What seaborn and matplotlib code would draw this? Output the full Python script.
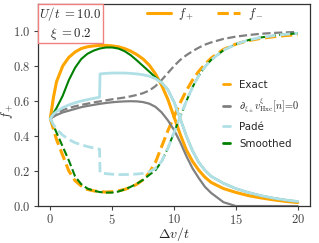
import matplotlib
matplotlib.use("Agg")
import matplotlib.pyplot as plt
import seaborn as sns
from matplotlib.lines import Line2D
from matplotlib.ticker import FuncFormatter
from matplotlib.offsetbox import AnchoredText

# ---------------- data ----------------
x_grid = [0, 0.25, 0.5, 1, 1.5, 2, 2.5, 3, 3.5, 4, 4.5, 5, 5.5, 6, 6.5, 7, 7.5, 8,
          8.5, 9, 9.5, 10, 10.5, 11, 11.5, 12, 12.5, 13, 14, 15, 16, 17, 18, 19, 20]

exact_fp = [0.5, 0.62, 0.71, 0.8, 0.85, 0.88, 0.9, 0.91, 0.915, 0.918, 0.918, 0.915,
            0.91, 0.9, 0.885, 0.865, 0.84, 0.805, 0.755, 0.69, 0.61, 0.51, 0.41, 0.32,
            0.255, 0.205, 0.165, 0.135, 0.1, 0.078, 0.06, 0.047, 0.036, 0.027, 0.02]
exact_fm = [0.5, 0.44, 0.38, 0.29, 0.2, 0.145, 0.115, 0.095, 0.087, 0.082, 0.08, 0.082,
            0.087, 0.095, 0.107, 0.125, 0.15, 0.19, 0.25, 0.34, 0.43, 0.51, 0.59, 0.66,
            0.72, 0.77, 0.81, 0.845, 0.895, 0.925, 0.945, 0.958, 0.967, 0.974, 0.979]

dxi_fp = [0.5, 0.51, 0.52, 0.535, 0.545, 0.555, 0.565, 0.572, 0.578, 0.584, 0.589, 0.593,
          0.596, 0.598, 0.599, 0.598, 0.594, 0.585, 0.567, 0.535, 0.49, 0.435, 0.365,
          0.285, 0.215, 0.16, 0.11, 0.075, 0.022, 0.0, 0.0, 0.0, 0.0, 0.0, 0.0]
dxi_fm = [0.5, 0.515, 0.53, 0.548, 0.56, 0.57, 0.578, 0.585, 0.592, 0.598, 0.604, 0.61,
          0.615, 0.62, 0.627, 0.635, 0.645, 0.66, 0.685, 0.72, 0.76, 0.8, 0.835, 0.862,
          0.885, 0.905, 0.922, 0.935, 0.955, 0.968, 0.977, 0.984, 0.989, 0.992, 0.995]

pade_x = [0, 0.25, 0.5, 1, 1.5, 2, 2.5, 3, 3.5, 3.98, 4.02, 4.5, 5, 5.5, 6, 6.5, 7, 7.5,
          8, 8.5, 9, 9.5, 10, 10.5, 11, 11.5, 12, 12.5, 13, 14, 15, 16, 17, 18, 19, 20]
pade_fp = [0.5, 0.525, 0.54, 0.562, 0.578, 0.59, 0.6, 0.608, 0.615, 0.622, 0.755, 0.758,
           0.76, 0.76, 0.76, 0.758, 0.755, 0.75, 0.742, 0.728, 0.705, 0.665, 0.595, 0.5,
           0.4, 0.315, 0.25, 0.205, 0.17, 0.13, 0.1, 0.078, 0.06, 0.046, 0.035, 0.026]
pade_fm = [0.5, 0.465, 0.44, 0.405, 0.38, 0.362, 0.35, 0.34, 0.332, 0.325, 0.19, 0.185,
           0.182, 0.18, 0.18, 0.181, 0.183, 0.187, 0.195, 0.215, 0.255, 0.33, 0.42, 0.51,
           0.6, 0.68, 0.745, 0.795, 0.835, 0.89, 0.925, 0.948, 0.963, 0.973, 0.981, 0.987]

smooth_fp = [0.5, 0.53, 0.56, 0.63, 0.72, 0.79, 0.84, 0.87, 0.888, 0.9, 0.906, 0.906,
             0.9, 0.885, 0.862, 0.832, 0.8, 0.768, 0.735, 0.705, 0.665, 0.595, 0.5, 0.4,
             0.315, 0.25, 0.205, 0.17, 0.13, 0.1, 0.078, 0.06, 0.046, 0.035, 0.026]
smooth_fm = [0.5, 0.46, 0.42, 0.34, 0.26, 0.17, 0.125, 0.1, 0.088, 0.08, 0.077, 0.077,
             0.083, 0.095, 0.11, 0.128, 0.15, 0.178, 0.205, 0.255, 0.33, 0.42, 0.51, 0.6,
             0.68, 0.745, 0.795, 0.835, 0.89, 0.925, 0.948, 0.963, 0.973, 0.981, 0.987]

methods = ["Exact", r"$\partial_{\xi_\pm} v^{\xi}_{\rm Hxc}[n]\!=\!0$", "Padé", "Smoothed"]
colors = ["orange", "gray", "powderblue", "green"]
x_ticks = [0, 5, 10, 15, 20]
y_ticks = [0.0, 0.2, 0.4, 0.6, 0.8, 1.0]

# ---------------- figure ----------------
sns.set_style("ticks")
plt.rcParams["font.family"] = ["DejaVu Sans"]
plt.rcParams["mathtext.fontset"] = "cm"

fig = plt.figure(figsize=(3.19, 2.43), dpi=100)
ax = fig.add_axes([0.119, 0.152, 0.853, 0.832])

# drawing order: Exact, d_xi, Smoothed, Pade (Pade on top of Smoothed)
series = [
    (x_grid, exact_fp, exact_fm, colors[0], 2.2),
    (x_grid, dxi_fp, dxi_fm, colors[1], 1.6),
    (x_grid, smooth_fp, smooth_fm, colors[3], 1.5),
    (pade_x, pade_fp, pade_fm, colors[2], 2.0),
]
for xs, fp, fm, c, lw in series:
    sns.lineplot(x=xs, y=fp, color=c, lw=lw, linestyle="-", estimator=None,
                 sort=False, ax=ax)
    sns.lineplot(x=xs, y=fm, color=c, lw=lw, linestyle="--", estimator=None,
                 sort=False, ax=ax)

ax.set_xlim(-1, 21)
ax.set_ylim(0, 1.155)
ax.set_xticks(x_ticks)
ax.set_yticks(y_ticks)
ax.xaxis.set_major_formatter(FuncFormatter(lambda v, p: f"${v:.0f}$"))
ax.yaxis.set_major_formatter(FuncFormatter(lambda v, p: f"${v:.1f}$"))
ax.tick_params(labelsize=9.0, length=3, width=0.8, colors="#444444", pad=2.2)
for s in ax.spines.values():
    s.set_color("#333333")
    s.set_linewidth(0.9)
ax.set_xlabel(r"$\Delta v/t$", fontsize=10)
ax.set_ylabel(r"$f_+$", fontsize=9.0)
ax.xaxis.set_label_coords(0.5, -0.095)
ax.yaxis.set_label_coords(-0.086, 0.47)

# legend for f+ / f-
h1 = [Line2D([], [], color="orange", lw=2.2, ls="-"),
      Line2D([], [], color="orange", lw=2.2, ls="--")]
leg1 = ax.legend(h1, [r"$f_+$", r"$f_-$"], ncol=2, frameon=False, fontsize=9,
                 loc="upper center", bbox_to_anchor=(0.615, 1.045),
                 handlelength=1.9, columnspacing=1.8, handletextpad=0.6)
ax.add_artist(leg1)

# legend for methods
h2 = [Line2D([], [], color=c, lw=2.0) for c in colors]
ax.legend(h2, methods, frameon=False, fontsize=7.4, loc="center left",
          bbox_to_anchor=(0.645, 0.455), handlelength=0.7, handletextpad=0.9,
          labelspacing=0.68)

at = AnchoredText(r"$U/t\ {=}10.0$" + "\n" + r"$\xi\ {=}0.2$", loc="upper left",
                  frameon=True, borderpad=0.0, pad=0.12,
                  prop=dict(fontsize=9.2, ha="center"))
at.patch.set_edgecolor("lightcoral")
at.patch.set_linewidth(1.0)
at.patch.set_boxstyle("square,pad=0")
at.set_zorder(5)
ax.add_artist(at)

fig.savefig("out.png", dpi=100)
